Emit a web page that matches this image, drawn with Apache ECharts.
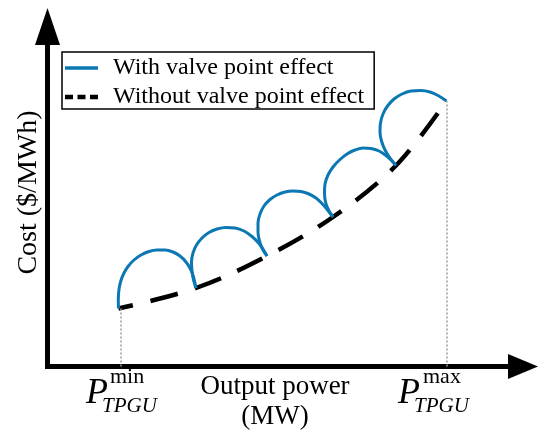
<!DOCTYPE html>
<html><head><meta charset="utf-8">
<script src="https://cdn.jsdelivr.net/npm/echarts@6/dist/echarts.min.js"></script>
<style>html,body{margin:0;padding:0;background:#fff}#c{width:538px;height:432px}</style>
</head><body><div id="c"></div>
<script>
// ---- data (x = output power, y = cost, arbitrary units) ----
const seriesNames = ['With valve point effect', 'Without valve point effect'];
const valveArc1 = [[71,58],[70.8,66.5],[71.3,75.5],[73,84.5],[76,92.5],[80.5,100],[86.5,106.5],[93.5,111.5],[101.5,115],[109.5,116.5],[117.5,116.5],[125.5,114.5],[132.5,110.5],[138.5,104.5],[143,97.5],[146,89.5],[148.5,78.5]];
const valveArc2 = [[148.5,78.5],[146,86.5],[144.5,95.5],[144,104.5],[145.5,113.5],[149,121.5],[154.5,128.5],[161.5,134],[169.5,137.5],[178.5,139],[187.5,138.5],[196.5,135.5],[204.5,130],[211.5,123],[216,116.5],[219.5,110.5]];
const valveArc3 = [[219.5,110.5],[215,117.5],[212,125.5],[210.5,134.5],[210.5,143.5],[212.5,152.5],[216.5,160.5],[222.5,167],[229.5,171.5],[237.5,174.5],[245.5,175.5],[253.5,175],[261.5,172.5],[268.5,168.5],[274.5,163],[280,156.5],[285.5,149.5]];
const valveArc4 = [[285.5,149.5],[281,156.5],[278,164.5],[277,173.5],[277.5,182.5],[280.5,191.5],[285.5,199.5],[292,206.5],[299.5,212.5],[307.5,216.5],[315.5,218.5],[323.5,218],[331.5,215.5],[338.5,211],[344,206],[348.5,201]];
const valveArc5 = [[348.5,201],[342.5,208.5],[337.5,216.5],[334,225.5],[332.5,234.5],[333,243.5],[335.5,252.5],[340,260.5],[346.5,267.5],[354.5,272.5],[363.5,275.5],[373.5,276],[382.5,274.5],[390.5,271],[399,265.5]];
const smoothCost = [[71,58],[148.5,78.5],[219.5,110.5],[285.5,149.5],[348.5,201],[399,265.5]];
const powerLimits = [73, 399];        // P_TPGU^min, P_TPGU^max
const limitCosts = [58, 265.5];
const limitSup = ['min', 'max'];
const limitSub = 'TPGU';
const axisMax = [475.5, 340];
const xAxisName = 'Output power\n(MW)';
const yAxisName = 'Cost ($/MWh)';

const FONT = '"Liberation Serif","Times New Roman",serif';
const BLUE = '#0b78b4';

const valveArcs = [valveArc1, valveArc2, valveArc3, valveArc4, valveArc5];
const series = valveArcs.map(arc => ({
  name: seriesNames[0], type: 'line', data: arc, smooth: 0.35, symbol: 'none',
  lineStyle: {color: BLUE, width: 3}, itemStyle: {color: BLUE}, z: 3, silent: true
}));
series.push({
  name: seriesNames[1], type: 'line', data: smoothCost, smooth: 0.35, symbol: 'none',
  lineStyle: {color: '#000', width: 4.5, type: [28, 18], dashOffset: 13}, itemStyle: {color: '#000'}, z: 2, silent: true,
  markLine: {
    symbol: 'none', silent: true, label: {show: false},
    lineStyle: {color: '#9a9a9a', type: [2, 2], width: 1.5},
    data: powerLimits.map((p, i) => [{coord: [p, 0]}, {coord: [p, limitCosts[i]]}])
  }
});

const axisCommon = {
  type: 'value', min: 0,
  axisTick: {show: false}, axisLabel: {show: false}, splitLine: {show: false}
};

const option = {
  backgroundColor: '#fff',
  animation: false,
  grid: {left: 47.5, right: 15, top: 26.5, bottom: 65.5},
  xAxis: Object.assign({}, axisCommon, {
    max: axisMax[0],
    axisLine: {show: true, onZero: false, symbol: ['none', 'triangle'], symbolSize: [25, 30],
      lineStyle: {color: '#000', width: 5, cap: 'square'}}
  }),
  yAxis: Object.assign({}, axisCommon, {
    max: axisMax[1],
    axisLine: {show: true, onZero: false, symbol: ['none', 'triangle'], symbolSize: [25, 37],
      lineStyle: {color: '#000', width: 5, cap: 'square'}}
  }),
  legend: {
    left: 62, top: 52, orient: 'vertical',
    itemWidth: 33, itemHeight: 24, itemGap: 5,
    padding: [4, 10, 0, 3],
    borderColor: '#000', borderWidth: 1.5, backgroundColor: '#fff',
    selectedMode: false,
    textStyle: {fontFamily: FONT, fontSize: 24, color: '#000', lineHeight: 24, padding: [0, 0, 0, 10]},
    data: [
      {name: seriesNames[0], icon: 'path://M0,0h33v3.5h-33z'},
      {name: seriesNames[1], icon: 'path://M0,0h8v4.3h-8zM12.5,0h8v4.3h-8zM25,0h8v4.3h-8z'}
    ]
  },
  series: series
};

const chart = echarts.init(document.getElementById('c'));
chart.setOption(option);

// labels placed from the axis scale
const origin = chart.convertToPixel({gridIndex: 0}, [0, 0]);
const gridEnd = chart.convertToPixel({gridIndex: 0}, axisMax);
const labelOffsets = [
  {p: -34.5, sup: -10.5, sub: -18.5},
  {p: -48.5, sup: -23.5, sub: -32.5}
];
const graphics = [];
powerLimits.forEach((p, i) => {
  const pt = chart.convertToPixel({gridIndex: 0}, [p, 0]);
  const o = labelOffsets[i];
  graphics.push({type: 'text', x: pt[0] + o.p, y: pt[1] + 27.5, silent: true,
    style: {text: 'P', fontFamily: FONT, fontStyle: 'italic', fontSize: 36, fill: '#000', align: 'left', verticalAlign: 'middle'}});
  graphics.push({type: 'text', x: pt[0] + o.sup, y: pt[1] + 10.5, silent: true,
    style: {text: limitSup[i], fontFamily: FONT, fontSize: 22, fill: '#000', align: 'left', verticalAlign: 'middle'}});
  graphics.push({type: 'text', x: pt[0] + o.sub, y: pt[1] + 39.5, silent: true,
    style: {text: limitSub, fontFamily: FONT, fontStyle: 'italic', fontSize: 21, fill: '#000', align: 'left', verticalAlign: 'middle'}});
});
graphics.push({type: 'text', x: 275, y: origin[1] + 5, silent: true,
  style: {text: xAxisName, fontFamily: FONT, fontSize: 27, lineHeight: 30, fill: '#000', align: 'center', verticalAlign: 'top'}});
graphics.push({type: 'text', x: origin[0] - 18.5, y: (origin[1] + gridEnd[1]) / 2 - 4, rotation: Math.PI / 2, silent: true,
  style: {text: yAxisName, fontFamily: FONT, fontSize: 28, fill: '#000', align: 'center', verticalAlign: 'middle'}});
chart.setOption({graphic: graphics});
</script>
</body></html>
